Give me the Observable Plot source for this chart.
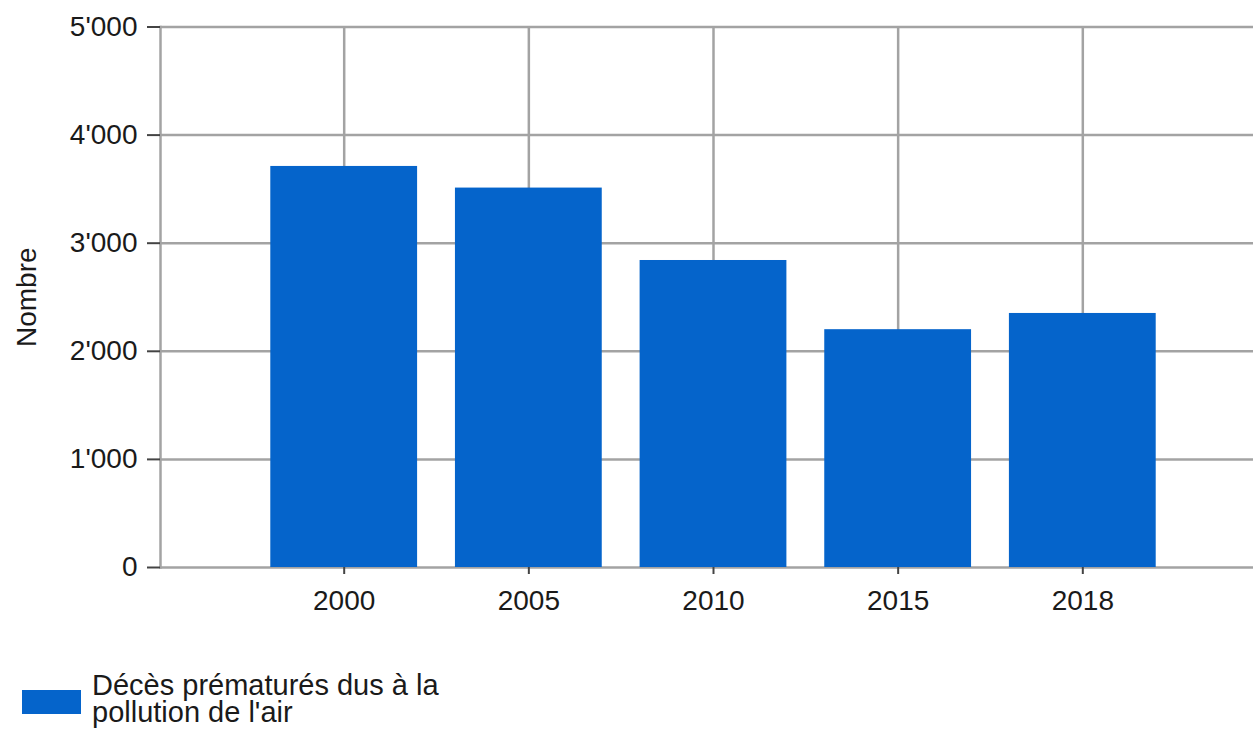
<!DOCTYPE html>
<html>
<head>
<meta charset="utf-8">
<script src="https://cdn.jsdelivr.net/npm/d3@7"></script>
<script src="https://cdn.jsdelivr.net/npm/@observablehq/plot@0.6"></script>
<style>
  html, body { margin: 0; padding: 0; background: #fff; overflow: hidden; }
  body { font-family: "Liberation Sans", Arial, sans-serif; color: #1a1a1a; width: 1253px; height: 732px; }
  #chart svg { display: block; }
  .legend { display: flex; align-items: flex-start; margin-top: 32px; padding-left: 22px; font-size: 29px; }
  .legend .sw { width: 59px; height: 24px; background: #0564cb; margin-top: 18px; margin-right: 11px; flex: none; }
  .legend .ln { height: 27px; line-height: 27px; white-space: nowrap; }
</style>
</head>
<body>
<div id="chart"></div>
<div class="legend"><div class="sw"></div><div><div class="ln">Décès prématurés dus à la</div><div class="ln">pollution de l'air</div></div></div>
<script>
const years = ["2000", "2005", "2010", "2015", "2018"];
const deaths = [3710, 3510, 2840, 2200, 2350];
const yTicks = [0, 1000, 2000, 3000, 4000, 5000];
const seriesLabel = "Décès prématurés dus à la pollution de l'air";
const yLabel = "Nombre";

const data = years.map((y, i) => ({year: y, value: deaths[i], series: seriesLabel}));
const fmt = d3.formatLocale({decimal: ".", thousands: "'", grouping: [3], currency: ["", ""]}).format(",");

const gridColor = "#a3a3a3";
const step = 184.5;

const chart = Plot.plot({
  width: 1253,
  height: 640,
  marginTop: 26.5,
  marginBottom: 73,
  marginLeft: 160,
  marginRight: 0,
  style: {fontFamily: "'Liberation Sans', Arial, sans-serif", fontSize: "28px", color: "#1a1a1a", background: "#fff"},
  x: {type: "band", domain: years, range: [159.5, 159.5 + 6 * step], paddingInner: 0.205, paddingOuter: 0.6, round: false},
  y: {domain: [0, 5000]},
  marks: [
    Plot.gridY(yTicks, {stroke: gridColor, strokeOpacity: 1, strokeWidth: 2.5}),
    Plot.gridX(years, {stroke: gridColor, strokeOpacity: 1, strokeWidth: 2.5}),
    Plot.barY(data, {x: "year", y: "value", fill: "#0564cb"}),
    Plot.frame({anchor: "left", stroke: gridColor, strokeWidth: 2.5}),
    Plot.axisY(yTicks, {tickSize: 13, tickPadding: 10, tickFormat: fmt, stroke: "#444", strokeWidth: 2, label: null, fontSize: 28}),
    Plot.axisX({tickSize: 7, tickPadding: 16, stroke: "#444", strokeWidth: 2, label: null, fontSize: 28}),
    Plot.text([yLabel], {frameAnchor: "left", dx: -133, rotate: -90, fontSize: 28, fill: "#1a1a1a", textAnchor: "middle"})
  ]
});
document.getElementById("chart").appendChild(chart);
</script>
</body>
</html>
